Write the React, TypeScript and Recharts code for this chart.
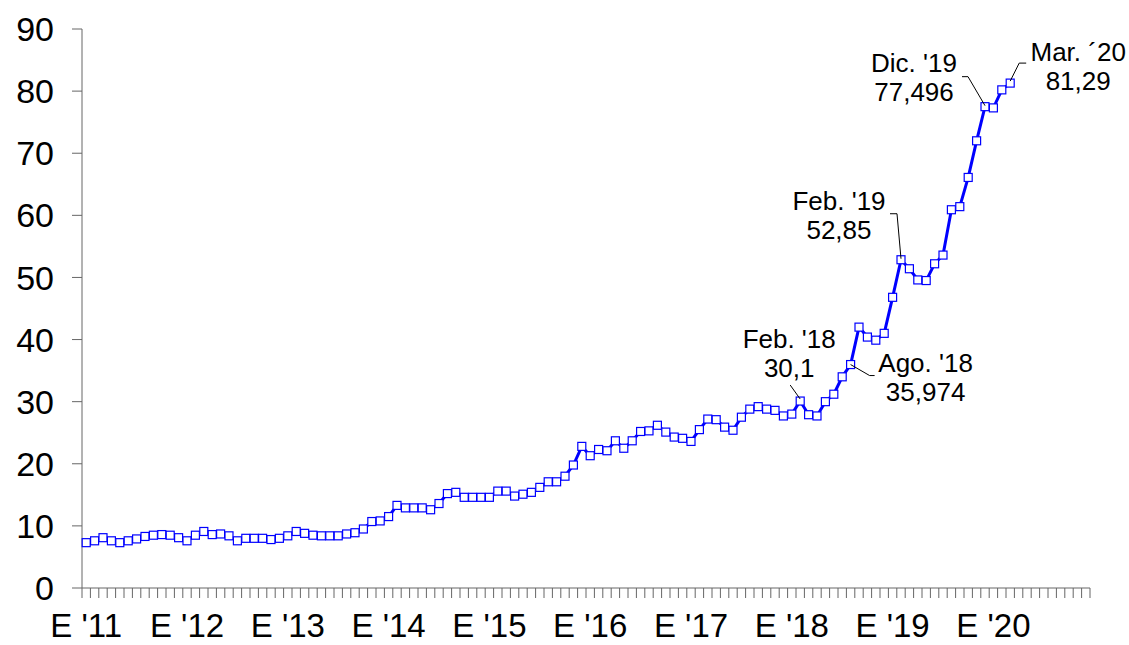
import React from "react";
import { LineChart, Line, XAxis, YAxis } from "recharts";

// categories: one per month, Jan 2011 .. Dec 2020
const YEARS = ["2011", "2012", "2013", "2014", "2015", "2016", "2017", "2018", "2019", "2020"];
const MONTHS = ["01", "02", "03", "04", "05", "06", "07", "08", "09", "10", "11", "12"];
const YEAR_LABELS = ["E '11", "E '12", "E '13", "E '14", "E '15", "E '16", "E '17", "E '18", "E '19", "E '20"];

// monthly values, Jan 2011 .. Mar 2020
const VALUES = [
  7.3, 7.6, 8.1, 7.6, 7.3, 7.6, 7.9, 8.3, 8.5, 8.6, 8.5, 8.1,
  7.6, 8.5, 9.1, 8.6, 8.7, 8.4, 7.6, 8.0, 8.0, 8.0, 7.8, 8.0,
  8.4, 9.1, 8.8, 8.5, 8.4, 8.4, 8.4, 8.7, 8.9, 9.5, 10.7, 10.8,
  11.5, 13.3, 12.9, 12.9, 12.9, 12.6, 13.6, 15.2, 15.4, 14.6, 14.6, 14.6,
  14.6, 15.6, 15.6, 14.8, 15.1, 15.4, 16.2, 17.1, 17.1, 18.0, 19.8, 22.8,
  21.3, 22.3, 22.1, 23.7, 22.5, 23.7, 25.2, 25.3, 26.2, 25.1, 24.3, 24.1,
  23.6, 25.5, 27.2, 27.1, 25.9, 25.4, 27.5, 28.8, 29.2, 28.8, 28.6, 27.7,
  28.0, 30.1, 27.9, 27.7, 30.0, 31.2, 34.0, 35.974, 42.0, 40.4, 39.9, 41.0,
  46.8, 52.85, 51.4, 49.6, 49.5, 52.2, 53.6, 60.9, 61.4, 66.1, 72.0, 77.496,
  77.3, 80.2, 81.29,
];

const Y_TICKS = [0, 10, 20, 30, 40, 50, 60, 70, 80, 90];

// callouts: month key, title, value text
const NOTES = [
  { month: "2018-02", title: "Feb. '18", value: "30,1" },
  { month: "2018-08", title: "Ago. '18", value: "35,974" },
  { month: "2019-02", title: "Feb. '19", value: "52,85" },
  { month: "2019-12", title: "Dic. '19", value: "77,496" },
  { month: "2020-03", title: "Mar. ´20", value: "81,29" },
];

// where each callout sits relative to its point (px)
const NOTE_LAYOUT: Record<string, { dx: number; dy: number; leader: number[][] }> = {
  "2018-02": { dx: -11, dy: -53, leader: [[-10, -16], [0, -2]] },
  "2018-08": { dx: 75, dy: 7, leader: [[0, 0], [19, 11], [24, 11]] },
  "2019-02": { dx: -62, dy: -50, leader: [[-11, -46], [-4, -46], [0, -1]] },
  "2019-12": { dx: -71, dy: -35, leader: [[-23, -30], [-17, -30], [0, -1]] },
  "2020-03": { dx: 68, dy: -22, leader: [[0, -2], [9, -20], [16, -20]] },
};

const CATEGORIES = YEARS.flatMap((y) => MONTHS.map((m) => `${y}-${m}`));
const data = CATEGORIES.map((month, i) => ({
  month,
  value: i < VALUES.length ? VALUES[i] : null,
}));

const FONT = "'Liberation Sans', Arial, sans-serif";
const AXIS_COLOR = "#666666";

function MonthTick(props: any) {
  const { x, y, payload } = props;
  const half = payload.offset ?? 4.2;
  const month: string = payload.value;
  const yearIdx = YEARS.indexOf(month.slice(0, 4));
  const isJan = month.endsWith("-01");
  const isLast = month === CATEGORIES[CATEGORIES.length - 1];
  return (
    <g>
      <line x1={x - half} x2={x - half} y1={y} y2={y + 10} stroke={AXIS_COLOR} />
      {isLast && <line x1={x + half} x2={x + half} y1={y} y2={y + 10} stroke={AXIS_COLOR} />}
      {isJan && (
        <text x={x} y={y + 49} textAnchor="middle" fontSize={33} fontFamily={FONT} fill="#000">
          {YEAR_LABELS[yearIdx]}
        </text>
      )}
    </g>
  );
}

function renderDot(props: any) {
  const { cx, cy, index, payload } = props;
  if (cx == null || cy == null || payload.value == null) return <g key={`d-${index}`} />;
  const note = NOTES.find((n) => n.month === payload.month);
  const lay = note ? NOTE_LAYOUT[note.month] : null;
  return (
    <g key={`d-${index}`}>
      <rect x={cx - 4} y={cy - 4} width={8} height={8} fill="#fff" stroke="#0000ff" strokeWidth={1.2} />
      {note && lay && (
        <g>
          <polyline
            points={lay.leader.map(([px, py]) => `${cx + px},${cy + py}`).join(" ")}
            fill="none"
            stroke="#000"
            strokeWidth={1}
          />
          <text x={cx + lay.dx} y={cy + lay.dy} textAnchor="middle" fontSize={26} fontFamily={FONT} fill="#000">
            {note.title}
          </text>
          <text x={cx + lay.dx} y={cy + lay.dy + 29} textAnchor="middle" fontSize={26} fontFamily={FONT} fill="#000">
            {note.value}
          </text>
        </g>
      )}
    </g>
  );
}

export default function App() {
  return (
    <div style={{ position: "absolute", left: 0, top: 0, background: "#fff" }}>
      <LineChart width={1129} height={645} data={data} margin={{ top: 29, right: 39, bottom: 0, left: 0 }}>
        <XAxis
          dataKey="month"
          scale="band"
          interval={0}
          height={57}
          tickSize={0}
          tickMargin={0}
          tickLine={false}
          axisLine={{ stroke: AXIS_COLOR }}
          tick={<MonthTick />}
        />
        <YAxis
          type="number"
          domain={[0, 90]}
          ticks={Y_TICKS}
          width={82}
          tickSize={10}
          tickMargin={18}
          axisLine={{ stroke: AXIS_COLOR }}
          tickLine={{ stroke: AXIS_COLOR }}
          tick={{ fill: "#000", fontSize: 34, fontFamily: FONT }}
          interval={0}
        />
        <Line
          type="linear"
          dataKey="value"
          stroke="#0000ff"
          strokeWidth={3}
          dot={renderDot}
          activeDot={false}
          isAnimationActive={false}
        />
      </LineChart>
    </div>
  );
}
